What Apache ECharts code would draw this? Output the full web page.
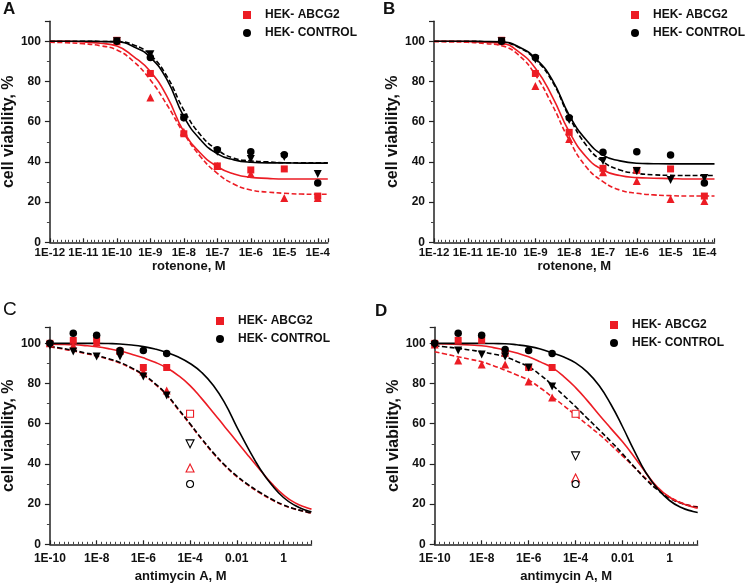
<!DOCTYPE html>
<html>
<head>
<meta charset="utf-8">
<script src="https://cdn.jsdelivr.net/npm/echarts@6/dist/echarts.min.js"></script>
<style>
html,body{margin:0;padding:0;background:#fff;}
#chart{width:745px;height:586px;}
</style>
</head>
<body>
<div id="chart"></div>
<script>
// ---------- tick labels ----------
const rotTicks = [-12, -11, -10, -9, -8, -7, -6, -5, -4];
const rotTickLabels = ['1E-12', '1E-11', '1E-10', '1E-9', '1E-8', '1E-7', '1E-6', '1E-5', '1E-4'];
const antiTicks = [-10, -8, -6, -4, -2, 0];
const antiTickLabels = ['1E-10', '1E-8', '1E-6', '1E-4', '0.01', '1'];
const yTicks = [0, 20, 40, 60, 80, 100];
const yTickLabels = ['0', '20', '40', '60', '80', '100'];

// ---------- doses (log10 M) ----------
const doseRot = [-10, -9, -8, -7, -6, -5, -4];
const doseAnti = [-10, -9, -8, -7, -6, -5];
const doseOpen = [-4];
const fitXRot = [-12, -11.5, -11, -10.5, -10, -9.5, -9, -8.5, -8, -7.5, -7, -6.5, -6, -5.5, -5, -4.5, -4, -3.7];
const fitXAnti = [-10, -9.5, -9, -8.5, -8, -7.5, -7, -6.5, -6, -5.5, -5, -4.5, -4, -3.5, -3, -2.5, -2, -1.5, -1, -0.5, 0, 0.5, 1, 1.2];

// ---------- Panel A ----------
const aSquare = [100.5, 84, 54, 38, 36, 36.5, 23];
const aTriUp = [100, 72, 55, 38, 34, 22, 22];
const aCircle = [100, 92, 62, 46, 45, 43.5, 29.5];
const aTriDown = [100, 93.5, 62, 45, 41.5, 42.5, 34];
const aRedSolid = [100, 100, 99.7, 99, 97.7, 92.4, 85, 72.5, 55, 44.3, 37.6, 34, 32.3, 31.8, 31.5, 31.5, 31.5, 31.5];
const aRedDash = [99.5, 99.3, 98.8, 97.8, 95.7, 89.9, 80.8, 68.3, 54.2, 42.6, 34.3, 28.9, 26, 25, 24.4, 24, 23.9, 23.9];
const aBlackSolid = [100, 100, 100, 99.9, 99.7, 97.3, 92, 80.8, 62.5, 51, 44, 41, 39.8, 39.5, 39.5, 39.4, 39.4, 39.4];
const aBlackDash = [100, 100, 100, 99.9, 99.8, 98.2, 93.2, 82.4, 65.8, 53.4, 46, 41.8, 40.5, 40, 39.6, 39.6, 39.6, 39.6];

// ---------- Panel B ----------
const bSquare = [100.5, 84, 54.7, 36.8, 35.8, 36.5, 23];
const bTriUp = [100, 77.8, 51.4, 34.8, 30.5, 21.6, 20.6];
const bCircle = [100, 92, 62, 44.8, 45.1, 43.4, 29.5];
const bTriDown = [100, 91, 60.9, 40.5, 35.5, 31, 32];
const bRedSolid = [100, 100, 99.9, 99.6, 99, 94.9, 86.6, 72.5, 55, 42.6, 36, 33.2, 32.2, 31.9, 31.7, 31.5, 31.5, 31.5];
const bRedDash = [99.8, 99.7, 99.5, 98.9, 97.8, 93.2, 83.3, 68.3, 50.9, 37.6, 30.2, 26, 24.4, 23.6, 23.2, 23, 23, 23];
const bBlackSolid = [100, 100, 100, 99.9, 99.7, 97.3, 91.5, 80.8, 63.3, 51, 43.4, 40.5, 39.3, 39.1, 39, 39, 39, 39];
const bBlackDash = [100, 100, 100, 99.8, 99.5, 97, 91, 80, 62.5, 48.4, 40.1, 36, 34.3, 33.6, 33.3, 33.2, 33.2, 33.2];

// ---------- Panel C ----------
const cSquare = [100, 101.5, 101.5, 96, 88, 88];
const cTriUp = [100, 99, 100.5, 96.5, 86, 76.5];
const cCircle = [100, 105, 104, 96.5, 96.5, 95];
const cTriDown = [99, 96, 93.5, 93.5, 83.5, 74];
const cOpenSquare = [65];
const cOpenTriDown = [50];
const cOpenTriUp = [38];
const cOpenCircle = [30];
const cRedSolid = [99.6, 99.5, 99.3, 98.9, 98.3, 97.4, 96.2, 94.6, 92.8, 90.6, 87.8, 84, 79, 72.5, 65.5, 58.3, 51.2, 44, 37, 30.2, 24.6, 20.6, 18.2, 17.5];
const cRedDash = [98.2, 97.3, 96.2, 95, 93.7, 92.1, 90.2, 87.5, 84.2, 79.7, 74.2, 67, 59.7, 52.2, 45.2, 39, 33.7, 29.3, 25.5, 22.2, 19.4, 17.5, 16, 15.6];
const cBlackSolid = [100, 100, 100, 100, 100, 99.9, 99.7, 99.2, 98.4, 97.2, 95.5, 93.2, 90, 85.5, 79, 70, 58.5, 47.5, 37.5, 29.5, 23.3, 19.3, 16.8, 16.2];
const cBlackDash = [98.5, 97.6, 96.5, 95.3, 94, 92.4, 90.5, 87.8, 84.5, 80, 74.5, 67.3, 60, 52.5, 45.5, 39.3, 34, 29.6, 25.8, 22.4, 19.6, 17.6, 16.1, 15.6];

// ---------- Panel D ----------
const dSquare = [100, 101.5, 101.5, 95, 88, 88];
const dTriUp = [99.5, 91.5, 89.5, 89.5, 81, 73];
const dCircle = [100, 105, 104, 97, 96.5, 95];
const dTriDown = [99, 96.5, 94.5, 93.5, 88, 78.5];
const dOpenSquare = [65];
const dOpenTriDown = [44];
const dOpenTriUp = [33];
const dOpenCircle = [30];
const dRedSolid = [99.8, 99.7, 99.5, 99.2, 98.8, 97.9, 96.7, 95.2, 93.3, 90.8, 87.9, 83.5, 78, 71.5, 64.5, 57.7, 51, 43.5, 35.5, 28.3, 23.4, 20.5, 18.6, 18];
const dRedDash = [95.8, 94.6, 93.3, 92.1, 90.8, 88.9, 86.6, 84.3, 81.7, 77.8, 73.4, 69, 64.2, 59.5, 54.8, 49.5, 44, 38.4, 32.7, 27.6, 23.6, 20.7, 19, 18.7];
const dBlackSolid = [100, 100, 100, 100, 100, 99.9, 99.8, 99.3, 98.5, 97.2, 95.3, 93.2, 90.3, 85.7, 79, 69.7, 58.5, 46.5, 35.5, 27.5, 21.8, 18.3, 16.3, 15.8];
const dBlackDash = [98.8, 98.2, 97.5, 96.7, 95.8, 94.7, 93.3, 91, 88.3, 84.3, 79.3, 74, 68.5, 62.7, 57, 51.2, 45, 38.5, 32.2, 27, 23, 20.4, 18.8, 18.5];

// ---------- styling ----------
const RED = '#ec1c24';
const BLACK = '#000000';
const FONT = '"Liberation Sans", Arial, sans-serif';
const ABCG2 = 'HEK- ABCG2';
const CONTROL = 'HEK- CONTROL';

function zip(xs, ys) { return xs.map((x, i) => [x, ys[i]]); }
function lookup(ticks, labels) {
  return function (v) {
    for (let i = 0; i < ticks.length; i++) if (Math.abs(ticks[i] - v) < 1e-6) return labels[i];
    return '';
  };
}

const panels = [
  { key: 'A', keyWeight: 'bold', grid: { left: 47.3, top: 21.2, width: 280.5, height: 221.1 }, ymax: 110,
    xmin: -12, xmax: -3.7, xint: 1, xticks: rotTicks, xlabels: rotTickLabels, xname: 'rotenone, M',
    minorSplit: 9, nameGapX: 15, labelMarginX: 5, xFont: 11.5,
    dose: doseRot, fitX: fitXRot,
    sq: aSquare, tu: aTriUp, ci: aCircle, td: aTriDown,
    rs: aRedSolid, rd: aRedDash, bs: aBlackSolid, bd: aBlackDash,
    legend: { left: 243, top: 9 }, title: { left: 3, top: 1 } },
  { key: 'B', keyWeight: 'bold', grid: { left: 434, top: 21.2, width: 280.5, height: 221.1 }, ymax: 110,
    xmin: -12, xmax: -3.7, xint: 1, xticks: rotTicks, xlabels: rotTickLabels, xname: 'rotenone, M',
    minorSplit: 9, nameGapX: 15, labelMarginX: 5, xFont: 11.5,
    dose: doseRot, fitX: fitXRot,
    sq: bSquare, tu: bTriUp, ci: bCircle, td: bTriDown,
    rs: bRedSolid, rd: bRedDash, bs: bBlackSolid, bd: bBlackDash,
    legend: { left: 631, top: 9 }, title: { left: 383, top: 1 } },
  { key: 'C', keyWeight: 'normal', grid: { left: 48.3, top: 327.3, width: 263.2, height: 217 }, ymax: 108,
    xmin: -10, xmax: 1.2, xint: 2, xticks: antiTicks, xlabels: antiTickLabels, xname: 'antimycin A, M',
    minorSplit: 10, nameGapX: 26, labelMarginX: 8, xFont: 12,
    dose: doseAnti, fitX: fitXAnti,
    sq: cSquare, tu: cTriUp, ci: cCircle, td: cTriDown,
    osq: cOpenSquare, otd: cOpenTriDown, otu: cOpenTriUp, oci: cOpenCircle,
    rs: cRedSolid, rd: cRedDash, bs: cBlackSolid, bd: cBlackDash,
    legend: { left: 216, top: 315 }, title: { left: 3, top: 300 } },
  { key: 'D', keyWeight: 'bold', grid: { left: 434.7, top: 327.3, width: 263, height: 217 }, ymax: 108,
    xmin: -10, xmax: 1.2, xint: 2, xticks: antiTicks, xlabels: antiTickLabels, xname: 'antimycin A, M',
    minorSplit: 10, nameGapX: 26, labelMarginX: 8, xFont: 12,
    dose: doseAnti, fitX: fitXAnti,
    sq: dSquare, tu: dTriUp, ci: dCircle, td: dTriDown,
    osq: dOpenSquare, otd: dOpenTriDown, otu: dOpenTriUp, oci: dOpenCircle,
    rs: dRedSolid, rd: dRedDash, bs: dBlackSolid, bd: dBlackDash,
    legend: { left: 610, top: 319 }, title: { left: 375, top: 303 } }
];

const option = {
  animation: false,
  backgroundColor: '#ffffff',
  textStyle: { fontFamily: FONT },
  title: [], grid: [], xAxis: [], yAxis: [], legend: [], series: []
};

panels.forEach((p, i) => {
  option.title.push({ text: p.key, left: p.title.left, top: p.title.top, padding: 0,
    textStyle: { fontSize: p.keyWeight === 'bold' ? 17 : 19, fontWeight: p.keyWeight, color: '#111', fontFamily: FONT } });
  option.grid.push(Object.assign({ containLabel: false }, p.grid));
  option.xAxis.push({
    gridIndex: i, type: 'value', min: p.xmin, max: p.xmax, interval: p.xint,
    axisLine: { show: true, onZero: false, lineStyle: { color: '#222', width: 1.5 } },
    axisTick: { show: true, inside: true, length: 4, lineStyle: { color: '#222', width: 1.2 } },
    minorTick: { show: true, splitNumber: p.minorSplit, length: 2.5, lineStyle: { color: '#444', width: 1 } },
    splitLine: { show: false },
    axisLabel: { formatter: lookup(p.xticks, p.xlabels), fontSize: p.xFont, fontWeight: 'bold', color: '#111',
      fontFamily: FONT, margin: p.labelMarginX, showMaxLabel: true, hideOverlap: false },
    name: p.xname, nameLocation: 'middle', nameGap: p.nameGapX,
    nameTextStyle: { fontSize: 13, fontWeight: 'bold', color: '#111', fontFamily: FONT }
  });
  option.yAxis.push({
    gridIndex: i, type: 'value', min: 0, max: p.ymax, interval: 20,
    axisLine: { show: true, onZero: false, lineStyle: { color: '#222', width: 1.5 } },
    axisTick: { show: true, inside: false, length: 5, lineStyle: { color: '#222', width: 1.2 } },
    minorTick: { show: true, splitNumber: 2, length: 3, lineStyle: { color: '#444', width: 1 } },
    splitLine: { show: false },
    axisLabel: { formatter: lookup(yTicks, yTickLabels), fontSize: 12, fontWeight: 'bold', color: '#111',
      fontFamily: FONT, margin: 9 },
    name: 'cell viability, %', nameLocation: 'middle', nameGap: 29, nameRotate: 90,
    nameTextStyle: { fontSize: 16, fontWeight: 'bold', color: '#111', fontFamily: FONT }
  });
  option.legend.push({
    orient: 'vertical', left: p.legend.left, top: p.legend.top, padding: 0,
    itemWidth: 8, itemHeight: 8, itemGap: 6,
    data: [{ name: ABCG2, icon: 'rect' }, { name: CONTROL, icon: 'circle' }],
    textStyle: { fontSize: 12, fontWeight: 'bold', color: '#111', fontFamily: FONT, padding: [0, 0, 0, 9] },
    selectedMode: false
  });

  const base = { xAxisIndex: i, yAxisIndex: i, silent: true };
  function line(ys, color, dashed) {
    return Object.assign({}, base, {
      type: 'line', data: zip(p.fitX, ys), showSymbol: false, symbol: 'none',
      smooth: 0.5, z: 2,
      lineStyle: { color: color, width: 1.6, type: dashed ? [5, 2.5] : 'solid' }
    });
  }
  function scatter(name, xs, ys, symbol, size, color, rotate, hollow) {
    return Object.assign({}, base, {
      type: 'scatter', name: name, data: zip(xs, ys), symbol: symbol, symbolSize: size,
      symbolRotate: rotate || 0, z: 3,
      itemStyle: hollow ? { color: '#fff', borderColor: color, borderWidth: 1.1, opacity: 1 }
                        : { color: color, opacity: 1 }
    });
  }
  option.series.push(line(p.rd, RED, true));
  option.series.push(line(p.bd, BLACK, true));
  option.series.push(line(p.rs, RED, false));
  option.series.push(line(p.bs, BLACK, false));
  option.series.push(scatter(ABCG2, p.dose, p.sq, 'rect', 7, RED));
  option.series.push(scatter('ABCG2 b', p.dose, p.tu, 'triangle', 8, RED));
  option.series.push(scatter(CONTROL, p.dose, p.ci, 'circle', 7.5, BLACK));
  option.series.push(scatter('CONTROL b', p.dose, p.td, 'triangle', 8, BLACK, 180));
  if (p.osq) {
    option.series.push(scatter('open sq', doseOpen, p.osq, 'rect', 7, RED, 0, true));
    option.series.push(scatter('open td', doseOpen, p.otd, 'triangle', 8, BLACK, 180, true));
    option.series.push(scatter('open tu', doseOpen, p.otu, 'triangle', 8, RED, 0, true));
    option.series.push(scatter('open ci', doseOpen, p.oci, 'circle', 7, BLACK, 0, true));
  }
});

const chart = echarts.init(document.getElementById('chart'), null, { renderer: 'canvas' });
chart.setOption(option);
</script>
</body>
</html>
